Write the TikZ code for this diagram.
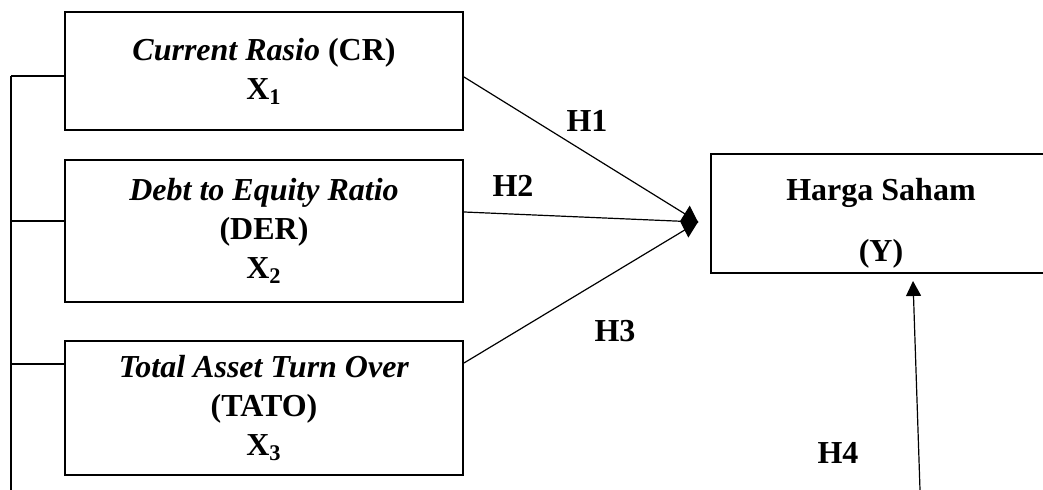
\documentclass[tikz,border=0pt]{standalone}
\usepackage{fontspec}
\setmainfont{Liberation Serif}
\usetikzlibrary{arrows.meta}

\begin{document}
\begin{tikzpicture}[
        x=0.5pt, y=-0.5pt, % one unit = one pixel of the sketch
        box/.style={draw, line width=1pt, align=center, inner sep=0pt, minimum width=199pt,
            font=\fontsize{16}{19.5}\selectfont\bfseries}, % variable boxes
        hyp/.style={font=\fontsize{16}{19.5}\selectfont\bfseries}, % H labels
        link/.style={line width=0.6pt},
    ]
    \useasboundingbox (0,0) rectangle (1043,490);

    % independent variables
    \node[box, minimum height=59pt] (cr) at (264,71) {\textit{Current Rasio} (CR)\\ X\textsubscript{1}};
    \node[box, minimum height=71pt] (der) at (264,231) {\textit{Debt to Equity Ratio}\\ (DER)\\ X\textsubscript{2}};
    \node[box, minimum height=67pt] (tato) at (264,408) {\textit{Total Asset Turn Over}\\ (TATO)\\ X\textsubscript{3}};

    % dependent variable
    \node[box, minimum width=170pt, minimum height=59.5pt] (hs) at (881,213.5) {\rule{0pt}{21pt}Harga Saham\\[11pt] (Y)};

    % joint line on the left
    \coordinate (s1) at (11,76);
    \coordinate (s2) at (11,221);
    \coordinate (s3) at (11,364);
    \coordinate (s0) at (11,490);
    \draw[link] (s1) -- (s0);
    \draw[link] (s1) -- (s1 -| cr.west);
    \draw[link] (s2) -- (s2 -| der.west);
    \draw[link] (s3) -- (s3 -| tato.west);

    % partial effects
    \coordinate (hub) at (698,222);
    \draw[link] ([yshift=-3pt]cr.east) -- (hub);
    \draw[link, -{Diamond[length=9pt, width=16pt]}] ([yshift=9.5pt]der.east) -- (hub);
    \draw[link] ([yshift=22.5pt]tato.east) -- (hub);

    % simultaneous effect
    \coordinate (h4start) at (920,490);
    \draw[link, -{Triangle[length=7.5pt, width=7.5pt]}] (h4start) -- ([xshift=16pt, yshift=-3.5pt]hs.south);

    \node[hyp] (h1) at (587,121) {H1};
    \node[hyp] (h2) at (513,186) {H2};
    \node[hyp] (h3) at (615,331) {H3};
    \node[hyp] (h4) at (838,453) {H4};
\end{tikzpicture}
\end{document}
